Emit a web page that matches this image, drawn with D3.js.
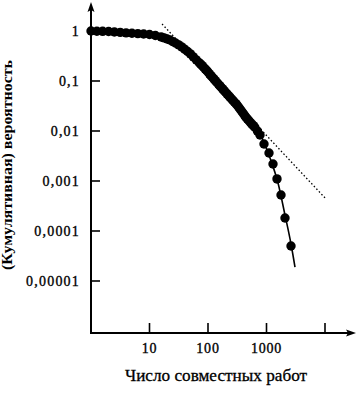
<!DOCTYPE html>
<html>
<head>
<meta charset="utf-8">
<script src="https://cdn.jsdelivr.net/npm/d3@7"></script>
<style>
  html, body { margin: 0; padding: 0; background: #fff; }
  svg { display: block; }
  text { font-family: "Liberation Serif", "Times New Roman", serif; fill: #000; }
</style>
</head>
<body>
<div id="chart"></div>
<script>
// ---- data ----
const xTickValues = [10, 100, 1000, 10000];
const xTickLabels = ["10", "100", "1000", ""];
const yTickValues = [1, 0.1, 0.01, 0.001, 0.0001, 0.00001];
const yTickLabels = ["1", "0,1", "0,01", "0,001", "0,0001", "0,00001"];
const xTitle = "Число совместных работ";
const yTitle = "(Кумулятивная) вероятность";

// collaborations (x) and cumulative probability (y) of the plotted points
const pointsX = [1, 1.26, 1.58, 2.0, 2.51, 3.16, 3.98, 5.01, 6.31, 7.94,
  10.0, 12.6, 15.8, 17.8, 20.0, 22.4, 25.1, 28.2, 31.6, 35.5,
  39.8, 44.7, 50.1, 56.2, 63.1, 70.8, 75.0, 79.4, 84.1, 89.1, 94.4,
  100, 106, 112, 119, 126, 133, 141, 150, 158, 168, 178, 188,
  200, 211, 224, 237, 251, 266, 282, 299, 316, 335, 355, 376,
  398, 422, 447, 473, 501, 531, 562, 596, 631, 700,
  774, 906, 1103, 1291, 1512, 1770, 2071, 2624];
const pointsY = [1, 0.99, 0.986, 0.977, 0.957, 0.937, 0.918, 0.90, 0.887, 0.871,
  0.851, 0.811, 0.761, 0.727, 0.693, 0.661, 0.614, 0.570, 0.529, 0.482,
  0.433, 0.389, 0.348, 0.303, 0.265, 0.232, 0.217, 0.203, 0.1885, 0.175, 0.1626,
  0.151, 0.139, 0.128, 0.1187, 0.110, 0.1018, 0.0942, 0.0872, 0.0807, 0.0749, 0.0695, 0.0644,
  0.0597, 0.0553, 0.0512, 0.0475, 0.0441, 0.0409, 0.038, 0.0353, 0.0327, 0.0298, 0.0272, 0.0248,
  0.0226, 0.0206, 0.0187, 0.0173, 0.016, 0.0148, 0.0137, 0.0128, 0.0119, 0.00995,
  0.00832, 0.0055, 0.00363, 0.00219, 0.0011, 0.000525, 0.000182, 0.00005];

// power-law guide (dotted)
const powerLawX = [16.4, 10400];
const powerLawY = [1.38, 0.000437];

// cut-off fit (solid)
const cutoffX = [838, 1148, 1574, 2071, 2624, 3069];
const cutoffY = [0.00724, 0.00288, 0.00091, 0.000209, 0.000055, 0.000019];

// ---- drawing ----
const W = 357, H = 393;
const svg = d3.select("#chart").append("svg").attr("width", W).attr("height", H);

const axisX0 = 91, axisY0 = 333;
const x = d3.scaleLog().domain([1, 10000]).range([91, 325]);
const y = d3.scaleLog().domain([0.00001, 1]).range([281, 31]);

// power-law dotted line
svg.append("path")
  .datum(powerLawX.map((v, i) => [v, powerLawY[i]]))
  .attr("d", d3.line().x(d => x(d[0])).y(d => y(d[1])))
  .attr("fill", "none").attr("stroke", "#000")
  .attr("stroke-width", 1.3).attr("stroke-dasharray", "1.5,2.2");

// cutoff solid line
svg.append("path")
  .datum(cutoffX.map((v, i) => [v, cutoffY[i]]))
  .attr("d", d3.line().curve(d3.curveMonotoneX).x(d => x(d[0])).y(d => y(d[1])))
  .attr("fill", "none").attr("stroke", "#000").attr("stroke-width", 1.6);

// points
svg.append("g").selectAll("circle")
  .data(pointsX.map((v, i) => [v, pointsY[i]]))
  .join("circle")
  .attr("cx", d => x(d[0])).attr("cy", d => y(d[1]))
  .attr("r", 4.7).attr("fill", "#000");

// axes lines
svg.append("line").attr("x1", axisX0).attr("x2", 349).attr("y1", axisY0).attr("y2", axisY0)
  .attr("stroke", "#000").attr("stroke-width", 2);
svg.append("line").attr("x1", axisX0).attr("x2", axisX0).attr("y1", axisY0 + 1).attr("y2", 9)
  .attr("stroke", "#000").attr("stroke-width", 2);
// arrowheads
svg.append("path").attr("d", `M356,${axisY0} L346,${axisY0 - 3.5} L348,${axisY0} L346,${axisY0 + 3.5} Z`).attr("fill", "#000");
svg.append("path").attr("d", `M${axisX0},2 L${axisX0 - 3.5},12 L${axisX0},10 L${axisX0 + 3.5},12 Z`).attr("fill", "#000");

// x ticks
const xt = svg.append("g");
xt.selectAll("line").data(xTickValues).join("line")
  .attr("x1", d => x(d)).attr("x2", d => x(d))
  .attr("y1", axisY0).attr("y2", axisY0 - 10)
  .attr("stroke", "#000").attr("stroke-width", 1.6);
xt.selectAll("text").data(xTickValues).join("text")
  .attr("x", d => x(d)).attr("y", 353)
  .attr("text-anchor", "middle")
  .style("font-size", "14px").style("letter-spacing", "0.8px")
  .style("stroke", "#000").style("stroke-width", "0.35px")
  .text((d, i) => xTickLabels[i]);

// y ticks
const yt = svg.append("g");
yt.selectAll("line").data(yTickValues).join("line")
  .attr("x1", axisX0).attr("x2", axisX0 + 9)
  .attr("y1", d => y(d)).attr("y2", d => y(d))
  .attr("stroke", "#000").attr("stroke-width", 1.6);
yt.selectAll("text").data(yTickValues).join("text")
  .attr("x", 80).attr("y", d => y(d) + 5)
  .attr("text-anchor", "end")
  .style("font-size", "14px").style("letter-spacing", "1.2px")
  .style("stroke", "#000").style("stroke-width", "0.35px")
  .text((d, i) => yTickLabels[i]);

// titles
svg.append("text")
  .attr("x", 216).attr("y", 381)
  .attr("text-anchor", "middle")
  .attr("textLength", 182).attr("lengthAdjust", "spacingAndGlyphs")
  .style("font-size", "16px")
  .style("stroke", "#000").style("stroke-width", "0.3px")
  .text(xTitle);

svg.append("text")
  .attr("transform", "translate(12,165) rotate(-90)")
  .attr("text-anchor", "middle")
  .attr("textLength", 210).attr("lengthAdjust", "spacingAndGlyphs")
  .style("font-size", "14px").style("font-weight", "bold")
  .text(yTitle);
</script>
</body>
</html>
